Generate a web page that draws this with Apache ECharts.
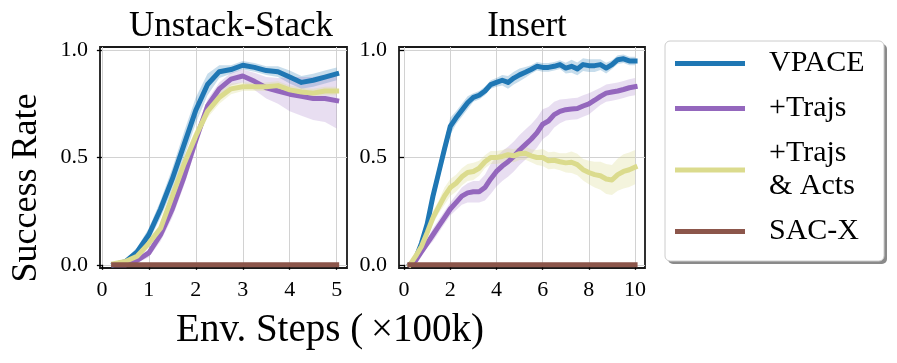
<!DOCTYPE html>
<html>
<head>
<meta charset="utf-8">
<script src="https://cdn.jsdelivr.net/npm/echarts@6/dist/echarts.min.js"></script>
<style>
  html, body { margin: 0; padding: 0; background: #fff; }
  #main { width: 897px; height: 363px; }
</style>
</head>
<body>
<div id="main"></div>
<script>
// x positions (x100k env steps)
var stackSteps = [0.25, 0.5, 0.75, 1, 1.25, 1.5, 1.75, 2, 2.25, 2.5, 2.75, 3, 3.25, 3.5, 3.75, 4, 4.25, 4.5, 4.75, 5];
var insertSteps = [0.25, 0.5, 0.75, 1, 1.25, 1.5, 1.75, 2, 2.25, 2.5, 2.75, 3, 3.25, 3.5, 3.75, 4, 4.25, 4.5, 4.75, 5,
                   5.25, 5.5, 5.75, 6, 6.25, 6.5, 6.75, 7, 7.25, 7.5, 7.75, 8, 8.25, 8.5, 8.75, 9, 9.25, 9.5, 9.75, 10];

var names = ['VPACE', '+Trajs', '+Trajs\n& Acts', 'SAC-X'];
var colors = ['#1f77b4', '#9467bd', '#dbdb8d', '#8c564b'];
var bandAlpha = [0.25, 0.22, 0.3, 0.25];

// Unstack-Stack: mean and spread
var stackVpace = [0.0, 0.015, 0.06, 0.14, 0.26, 0.4, 0.56, 0.72, 0.84, 0.9, 0.91, 0.93, 0.92, 0.905, 0.9, 0.875, 0.85, 0.86, 0.875, 0.89];
var stackVpaceSd = [0.005, 0.01, 0.02, 0.03, 0.04, 0.05, 0.06, 0.06, 0.05, 0.03, 0.02, 0.02, 0.02, 0.02, 0.025, 0.03, 0.03, 0.03, 0.03, 0.03];
var stackTrajs = [0.0, 0.0, 0.02, 0.055, 0.14, 0.26, 0.41, 0.58, 0.74, 0.82, 0.865, 0.88, 0.855, 0.825, 0.81, 0.795, 0.785, 0.775, 0.775, 0.765];
var stackTrajsSd = [0.003, 0.005, 0.01, 0.02, 0.03, 0.04, 0.04, 0.04, 0.03, 0.03, 0.03, 0.03, 0.04, 0.05, 0.06, 0.08, 0.09, 0.1, 0.11, 0.13];
var stackActs = [0.005, 0.015, 0.04, 0.1, 0.17, 0.32, 0.47, 0.6, 0.715, 0.78, 0.82, 0.83, 0.83, 0.83, 0.835, 0.815, 0.805, 0.8, 0.81, 0.81];
var stackActsSd = [0.005, 0.01, 0.015, 0.02, 0.02, 0.03, 0.03, 0.03, 0.03, 0.03, 0.025, 0.02, 0.02, 0.02, 0.02, 0.02, 0.02, 0.02, 0.02, 0.02];
var stackSacx = [0, 0, 0, 0, 0, 0, 0, 0, 0, 0, 0, 0, 0, 0, 0, 0, 0, 0, 0, 0];
var stackSacxSd = [0, 0, 0, 0, 0, 0, 0, 0, 0, 0, 0, 0, 0, 0, 0, 0, 0, 0, 0, 0];

// Insert: mean and spread
var insertVpace = [0.0, 0.03, 0.1, 0.19, 0.32, 0.43, 0.54, 0.645, 0.685, 0.72, 0.755, 0.78, 0.79, 0.81, 0.84, 0.85, 0.86, 0.85, 0.87, 0.885,
                   0.897, 0.91, 0.925, 0.92, 0.92, 0.925, 0.933, 0.917, 0.925, 0.913, 0.933, 0.928, 0.928, 0.933, 0.917, 0.933, 0.956, 0.96, 0.95, 0.95];
var insertVpaceSd = [0.005, 0.01, 0.02, 0.03, 0.04, 0.04, 0.04, 0.04, 0.03, 0.03, 0.03, 0.02, 0.02, 0.02, 0.02, 0.02, 0.025, 0.03, 0.03, 0.03,
                     0.025, 0.02, 0.02, 0.02, 0.02, 0.02, 0.02, 0.025, 0.03, 0.03, 0.03, 0.03, 0.03, 0.025, 0.025, 0.02, 0.02, 0.02, 0.02, 0.02];
var insertTrajs = [0.0, 0.02, 0.06, 0.1, 0.14, 0.18, 0.22, 0.26, 0.29, 0.32, 0.335, 0.34, 0.34, 0.36, 0.4, 0.435, 0.46, 0.48, 0.505, 0.535,
                   0.56, 0.585, 0.615, 0.655, 0.67, 0.7, 0.715, 0.723, 0.726, 0.728, 0.74, 0.75, 0.767, 0.785, 0.8, 0.805, 0.81, 0.817, 0.825, 0.83];
var insertTrajsSd = [0.003, 0.01, 0.015, 0.02, 0.03, 0.03, 0.03, 0.03, 0.035, 0.04, 0.045, 0.05, 0.05, 0.06, 0.07, 0.07, 0.07, 0.07, 0.07, 0.07,
                     0.07, 0.07, 0.07, 0.07, 0.065, 0.06, 0.055, 0.05, 0.05, 0.05, 0.05, 0.05, 0.045, 0.04, 0.04, 0.04, 0.04, 0.04, 0.04, 0.04];
var insertActs = [0.0, 0.04, 0.085, 0.15, 0.22, 0.27, 0.32, 0.36, 0.38, 0.41, 0.43, 0.435, 0.45, 0.48, 0.5, 0.5, 0.505, 0.513, 0.508, 0.518,
                  0.52, 0.508, 0.5, 0.5, 0.485, 0.487, 0.48, 0.475, 0.478, 0.467, 0.443, 0.43, 0.42, 0.415, 0.4, 0.395, 0.42, 0.435, 0.443, 0.455];
var insertActsSd = [0.005, 0.01, 0.015, 0.02, 0.03, 0.03, 0.04, 0.04, 0.04, 0.04, 0.04, 0.04, 0.035, 0.03, 0.03, 0.03, 0.03, 0.03, 0.03, 0.03,
                    0.03, 0.03, 0.035, 0.04, 0.04, 0.04, 0.04, 0.045, 0.05, 0.05, 0.05, 0.055, 0.06, 0.065, 0.07, 0.07, 0.075, 0.08, 0.08, 0.08];
var insertSacx = [0, 0, 0, 0, 0, 0, 0, 0, 0, 0, 0, 0, 0, 0, 0, 0, 0, 0, 0, 0, 0, 0, 0, 0, 0, 0, 0, 0, 0, 0, 0, 0, 0, 0, 0, 0, 0, 0, 0, 0];
var insertSacxSd = [0, 0, 0, 0, 0, 0, 0, 0, 0, 0, 0, 0, 0, 0, 0, 0, 0, 0, 0, 0, 0, 0, 0, 0, 0, 0, 0, 0, 0, 0, 0, 0, 0, 0, 0, 0, 0, 0, 0, 0];

var stackTicks = [0, 1, 2, 3, 4, 5];
var insertTicks = [0, 2, 4, 6, 8, 10];
var yTicks = [0, 0.5, 1];

var FONT = "'Liberation Serif', 'DejaVu Serif', serif";

function hexToRgba(hex, a) {
  var n = parseInt(hex.slice(1), 16);
  return 'rgba(' + (n >> 16 & 255) + ',' + (n >> 8 & 255) + ',' + (n & 255) + ',' + a + ')';
}

function zip(xs, ys) {
  return xs.map(function (x, i) { return [x, ys[i]]; });
}

// shaded spread drawn as one polygon per series
function band(idx, xs, mean, sd, k) {
  var data = xs.map(function (x, i) { return [x, mean[i] - sd[i], mean[i] + sd[i]]; });
  return {
    type: 'custom',
    xAxisIndex: idx, yAxisIndex: idx,
    silent: true,
    z: 1,
    data: data,
    encode: { x: 0, y: [1, 2] },
    renderItem: function (params, api) {
      if (params.dataIndex !== 0) return null;
      var up = [], dn = [];
      data.forEach(function (d) {
        up.push(api.coord([d[0], d[2]]));
        dn.push(api.coord([d[0], d[1]]));
      });
      return {
        type: 'polygon',
        shape: { points: up.concat(dn.reverse()) },
        style: { fill: hexToRgba(colors[k], bandAlpha[k]) }
      };
    }
  };
}

function line(idx, xs, mean, k) {
  return {
    type: 'line',
    name: names[k],
    xAxisIndex: idx, yAxisIndex: idx,
    data: zip(xs, mean),
    showSymbol: false,
    z: 3 + k,
    itemStyle: { color: colors[k] },
    lineStyle: { color: colors[k], width: 5, cap: 'square', join: 'round' }
  };
}

var panels = [
  { xs: stackSteps, means: [stackVpace, stackTrajs, stackActs, stackSacx], sds: [stackVpaceSd, stackTrajsSd, stackActsSd, stackSacxSd] },
  { xs: insertSteps, means: [insertVpace, insertTrajs, insertActs, insertSacx], sds: [insertVpaceSd, insertTrajsSd, insertActsSd, insertSacxSd] }
];

var series = [];
panels.forEach(function (p, idx) {
  for (var k = 0; k < 4; k++) series.push(band(idx, p.xs, p.means[k], p.sds[k], k));
  for (var k2 = 0; k2 < 4; k2++) series.push(line(idx, p.xs, p.means[k2], k2));
});

function xAxis(idx, min, max, ticks) {
  return {
    type: 'value', gridIndex: idx, min: min, max: max,
    axisLine: { show: false },
    axisTick: { show: true, inside: false, length: 5, customValues: ticks, lineStyle: { color: '#000', width: 1.3 } },
    axisLabel: { customValues: ticks, margin: 11, color: '#000', fontFamily: FONT, fontSize: 22 },
    splitLine: { show: true, lineStyle: { color: '#d2d2d2', width: 1 } }
  };
}
function yAxis(idx) {
  return {
    type: 'value', gridIndex: idx, min: -0.015, max: 1.015,
    axisLine: { show: false },
    axisTick: { show: true, inside: false, length: 5, customValues: yTicks, lineStyle: { color: '#000', width: 1.3 } },
    axisLabel: { customValues: yTicks, margin: 12, color: '#000', fontFamily: FONT, fontSize: 22,
      formatter: function (v) { return v.toFixed(1); } },
    splitLine: { show: true, lineStyle: { color: '#d2d2d2', width: 1 } }
  };
}

var myChart = echarts.init(document.getElementById('main'), null, { renderer: 'canvas' });
var option = {
  animation: false,
  backgroundColor: '#fff',
  textStyle: { fontFamily: FONT },
  title: [
    { text: 'Unstack-Stack', left: 226, top: 4, textAlign: 'center',
      textStyle: { fontFamily: FONT, fontSize: 35, fontWeight: 'normal', color: '#000' } },
    { text: 'Insert', left: 522, top: 4, textAlign: 'center',
      textStyle: { fontFamily: FONT, fontSize: 35, fontWeight: 'normal', color: '#000' } }
  ],
  grid: [
    { left: 100, top: 47, width: 247, height: 221, show: true, borderColor: '#1a1a1a', borderWidth: 1.8, backgroundColor: 'transparent' },
    { left: 399, top: 47, width: 246, height: 221, show: true, borderColor: '#1a1a1a', borderWidth: 1.8, backgroundColor: 'transparent' }
  ],
  xAxis: [xAxis(0, -0.04, 5.22, stackTicks), xAxis(1, -0.22, 10.43, insertTicks)],
  yAxis: [yAxis(0), yAxis(1)],
  legend: {
    data: names,
    orient: 'vertical',
    left: 675, top: 47,
    padding: 0,
    itemGap: 12,
    itemWidth: 70, itemHeight: 5,
    icon: 'rect',
    selectedMode: false,
    textStyle: { fontFamily: FONT, fontSize: 30, lineHeight: 33, color: '#000', padding: [0, 0, 0, 19] }
  },
  graphic: [
    { type: 'rect', z: -1, shape: { x: 668, y: 44, width: 219, height: 220, r: 5 }, style: { fill: '#8a8a8a' } },
    { type: 'rect', z: -1, shape: { x: 665, y: 41, width: 219, height: 220, r: 5 }, style: { fill: '#fff', stroke: '#cccccc', lineWidth: 1 } },
    { type: 'text', x: 330, y: 331, style: { text: 'Env. Steps (\u2009\u00d7100k)', font: '39px ' + FONT, fill: '#000', textAlign: 'center', textVerticalAlign: 'middle' } },
    { type: 'text', x: 27, y: 188, rotation: Math.PI / 2, style: { text: 'Success Rate', font: '36px ' + FONT, fill: '#000', textAlign: 'center', textVerticalAlign: 'middle' } }
  ],
  series: series
};
myChart.setOption(option);
</script>
</body>
</html>
